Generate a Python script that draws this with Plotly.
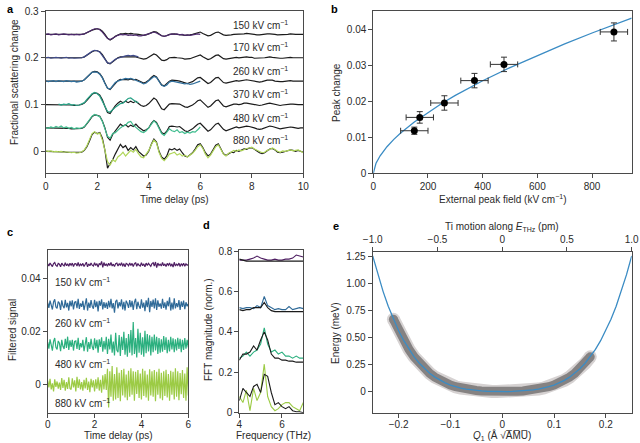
import numpy as np
import plotly.graph_objects as go

FONT = "Liberation Sans, Arial, Helvetica, sans-serif"
W, H = 640, 443
LC = "#4a4a4a"
TC = "#2a2a2a"
BLUE = "#3b8cc4"

# ---------------- Panel a : fractional scattering change ----------------
a_fields = ["150", "170", "260", "370", "480", "880"]
a_offsets = [0.25, 0.20, 0.15, 0.10, 0.05, 0.0]
a_colors = ["#4e2a6e", "#404b8c", "#31709d", "#27a286", "#40bd8f", "#b0d65a"]
a_label_y = [0.271, 0.222, 0.172, 0.122, 0.072, 0.0236]

# simulation (black), 0..10 ps step 0.1, units of 1e-3
sim_150 = [0,0,0,0,0,0,0,0,0,0, -1,-1,-1,-1,0,1,3,6,9,11, 12,11,7,0,-8,-12,-9,-4,-1,1,
           1,2,1,2,1,1,0,-1,-2,-1, 1,4,6,5,0,-3,-4,-3,0,1, 1,0,0,-1,-2,-2,-1,0,2,4,
           5,2,-1,-3,-2,1,4,5,2,-1, -2,-2,-1,0,0,0,1,1,2,1, 0,-1,-1,-1,0,0,1,1,1,0,
           -1,-1,0,0,0,1,0,0,0,0, 0]
sim_170 = [0,0,0,0,0,0,0,0,-1,-1, -1,-1,-1,-1,0,2,5,9,13,15, 15,13,7,-2,-11,-13,-8,-3,0,2,
           2,3,2,3,2,2,0,-1,-3,-2, 1,5,8,6,0,-5,-6,-4,0,1, 1,0,0,-1,-3,-3,-2,0,2,5,
           6,2,-1,-4,-2,1,5,6,2,-2, -3,-2,-1,0,1,0,1,2,2,1, 1,-1,-1,-1,-1,0,1,2,1,0,
           -1,-1,-1,0,1,1,0,0,0,0, 0]
sim_260 = [0,0,0,0,0,0,0,-1,-1,-1, -1,-1,-1,-1,0,3,8,14,19,21, 20,16,8,-4,-15,-18,-11,-4,1,4,
           3,4,3,5,3,4,1,-2,-4,-2, 2,8,12,9,0,-8,-10,-6,0,2, 2,1,0,-2,-4,-5,-3,-1,3,7,
           8,3,-2,-5,-3,2,7,8,3,-3, -4,-3,-1,0,1,0,1,2,3,2, 1,-1,-2,-2,-1,1,2,2,2,0,
           -1,-1,-1,0,1,1,0,0,0,0, 0]
sim_370 = [0,0,0,0,0,-1,-1,-1,-1,-1, -1,-2,-2,-1,0,3,9,16,22,25, 24,20,10,-4,-17,-19,-10,-3,3,7,
           4,7,4,7,4,7,2,-2,-4,-2, 2,9,14,10,0,-9,-11,-6,1,2, 2,1,1,-2,-5,-6,-4,-1,3,8,
           10,4,-2,-6,-3,2,8,10,3,-3, -5,-3,-1,1,1,0,1,3,3,2, 1,-1,-2,-2,-1,1,2,3,2,0,
           -1,-2,-1,0,1,1,1,0,0,0, 0]
sim_480 = [0,0,0,0,0,0,-1,-1,-1,-1, -2,-2,-2,-2,-1,2,8,16,24,28, 27,25,15,0,-20,-26,-14,-6,2,8,
           4,7,2,6,3,8,2,-3,-6,-4, 0,10,16,12,0,-10,-13,-7,3,4, 3,2,3,-2,-6,-8,-5,-2,3,8,
           10,5,-2,-7,-4,2,8,10,4,-3, -6,-4,-1,1,2,0,1,3,4,3, 2,0,-2,-3,-2,0,2,4,3,1,
           -1,-2,-1,0,1,2,1,0,-1,0, 0]
sim_880 = [0,0,0,0,-1,-1,-1,-1,-2,-2, -2,-3,-3,-3,-2,2,10,22,36,41, 38,40,28,2,-36,-26,-18,-6,6,15,
           8,12,2,8,3,10,0,-5,-10,-8, 0,15,26,20,0,-12,-17,-10,5,3, 6,2,5,-3,-10,-12,-8,-3,5,14,
           16,8,-3,-10,-6,3,13,16,6,-5, -9,-6,-2,-3,2,0,3,5,4,7, 8,4,0,-3,-5,-3,1,5,6,3,
           -2,-3,-2,0,2,3,2,0,2,0, -2]
sim_all = [sim_150, sim_170, sim_260, sim_370, sim_480, sim_880]

# measured (coloured), step 0.1 ps, units of 1e-3, with start times
data_150 = [0,1,-1,0,1,-1,0,1,0,-1, 0,-1,0,-1,0,1,4,7,10,12, 12,10,5,-2,-9,-11,-8,-4,-2,0,
            -1,0,-2,-1,-2,-1,-3,-3,-2,-1, 1,3,5,3,0,-3,-4,-2,0,1, 0,1,-1,0,-2,-1,-2,-1,0,1, 0]
data_170 = [0,1,-1,0,1,0,-1,0,1,-1, 0,-1,-1,0,0,2,6,10,14,16, 15,12,5,-4,-11,-12,-7,-3,-1,1,
            2,4,5,4,5,3,2]
data_260 = [1,-1,0,1,-1,1,0,-1,1,0, -1,0,-2,-1,0,3,9,15,19,20, 19,15,7,-5,-15,-17,-10,-3,0,2,
            3,6,5,6,4,2,0,-3,-6,-4, 1,6,10,8,-1,-9,-11,-8,-2,0, -1,-2,-3,-5,-6,-5,-7,-6,-4,-1, 0]
data_370 = [1,-1,1,0,2,-1,0,-2,-1,1, 4,11,18,23,26,23,18,8,-5,-15, -16,-10,-6,-2,2,3,8,13,14,9,
            6,4]
data_480 = [1,-1,2,0,3,1,4,0,2,-1, 1,-2,0,-1,0,3,10,18,25,29, 27,24,14,-2,-18,-22,-12,-10,-4,0,
            4,6,12,14,6,2,-4,-8,-10,-6, 0,8,15,10,-2,-12,-16,-10,-2,-6, -8,-4,-10,-8,-12,-9,-11,-8,-9,-4, 2]
data_880 = [1,0,1,-1,0,-1,0,-2,-1,-2, -3,-2,-4,-3,-1,3,12,25,38,42, 37,39,24,2,-22,-30,-18,-22,-12,-8,
            -2,-10,-5,2,-2,4,-5,-12,-14,-6, 2,14,24,18,-2,-15,-20,-14,-6,-4, -2,-8,-5,-10,-8,-12,-8,-4,2,10,
            14,6,-6,-14,-8,2,10,14,4,-6, -10,-4,-2,2,0,3,1,4,6,7, 9,5,2,-1,-3,-2,2,4,7,4,
            0,-2,1,0,2,3,1,2,3,0, -3]
data_all = [data_150, data_170, data_260, data_370, data_480, data_880]
data_start = [0.0, 0.0, 0.0, 0.5, 0.0, 0.0]

# ---------------- Panel b : peak change vs field ----------------
b_field = [150, 170, 260, 370, 478, 880]
b_peak = [0.0118, 0.0155, 0.0195, 0.0257, 0.0302, 0.0392]
b_field_err = [50, 50, 50, 50, 50, 50]
b_peak_err = [0.0010, 0.0016, 0.0020, 0.0020, 0.0020, 0.0025]
fit_field = [0, 5, 10, 25, 50, 75, 100, 150, 200, 250, 300, 400, 500, 600, 700, 800, 945]
fit_peak = [0, 0.00185, 0.0028, 0.00487, 0.00737, 0.0094, 0.01117, 0.01425, 0.0169, 0.01936,
            0.0216, 0.02566, 0.0293, 0.0327, 0.0359, 0.0389, 0.043]

# ---------------- Panel c : filtered signal (step 0.05 ps, units 1e-4) ----------------
c_fields = ["150", "260", "480", "880"]
c_offsets = [0.045, 0.030, 0.015, 0.0]
c_colors = ["#4f1f63", "#2f6a98", "#2cb07f", "#9ccb45"]
c_label_y = [0.0384, 0.0231, 0.0076, -0.0070]
filt_150 = [3,-5,6,-2,-7,4,8,-3,-6,5, 2,-8,6,-1,-5,7,-4,3,-6,5, -2,6,-7,3,4,-5,8,-6,2,-3,
            5,-7,4,9,-8,3,-4,6,-2,-5, 7,-3,4,-9,5,-1,12,-10,8,-4, 3,-6,5,-3,8,-5,2,-7,4,6,
            -5,3,-2,7,-6,4,-8,5,2,-4, 6,-3,5,-7,3,8,-6,4,-2,-5, 7,-4,3,-8,6,-3,5,-2,-6,4,
            7,-5,10,-11,6,-3,2,-5,8,-4, 3,-7,5,-2,6,-6,3,-9,9,-5, 2,-3,6,-7,4,-3,5,-6,3,-2, 1]
filt_260 = [8,-12,15,-6,-18,10,20,-9,-14,12, 5,-20,16,-4,-13,18,-10,7,-22,14, -6,16,-18,9,11,-13,22,-16,5,-8,
            14,-20,10,24,-22,8,-12,17,-6,-15, 18,-9,12,-25,14,-4,20,-18,10,-12, 8,-16,14,-10,22,-14,6,-30,12,18,
            -14,9,-6,20,-18,11,-22,15,5,-12, 17,-9,14,-20,9,22,-17,11,-6,-15, 20,-11,8,-24,16,-9,26,-28,14,-8,
            19,-14,24,-20,16,-8,5,-15,22,-12, 9,-19,14,-6,28,-22,8,-18,24,-14, 6,-9,17,-20,12,-8,15,-17,9,-6, 3]
filt_480 = [10,-15,20,-8,-22,12,25,-10,-18,14, 6,-24,18,-6,-16,22,-12,30,-20,16, -8,18,-22,12,14,-16,26,-20,6,-10,
            18,-24,12,28,-26,10,-16,22,-8,-20, 24,-14,18,-30,20,-8,28,-26,14,-18, 30,-35,22,-18,38,-30,12,-40,45,-20,
            -28,36,-42,30,-20,48,-38,25,-45,40, -30,55,-40,85,-35,25,-48,60,-30,45, -38,28,-45,52,-32,40,-25,35,-40,30,
            -28,38,-22,30,-35,25,-30,20,-26,32, -20,28,-32,18,-25,30,-18,24,-28,20, -22,26,-16,22,-28,18,-20,25,-15,18, -10]
filt_880 = [15,-10,22,-18,5,-25,20,-8,12,-15, 8,-20,25,-12,18,-22,10,-16,28,-14, -18,24,-10,16,-25,30,-12,20,-18,10,
            -22,18,-14,26,-20,12,-28,22,-10,16, -25,20,-15,28,-22,18,-30,35,-18,40, -20,60,-85,50,-45,70,-60,40,-55,65,
            -50,45,-62,55,-40,60,-48,38,-58,52, -45,62,-38,50,-60,48,-35,55,-50,42, -55,60,-42,52,-48,38,-60,58,-40,50,
            -45,55,-62,48,-38,60,-52,45,-58,50, -42,56,-48,40,-60,52,-38,48,-55,62, -45,50,-58,44,-36,55,-50,42,-60,65, -40]
filt_all = [filt_150, filt_260, filt_480, filt_880]

# ---------------- Panel d : FFT magnitude ----------------
d_freq = [4.0, 4.17, 4.33, 4.5, 4.67, 4.83, 5.0, 5.17, 5.33, 5.5, 5.67, 5.83, 6.0, 6.17, 6.33, 6.5, 6.67, 6.83, 7.0]
fft_sim = [
    [0.76, 0.755, 0.75, 0.75, 0.75, 0.75, 0.75, 0.75, 0.75, 0.75, 0.75, 0.75, 0.75, 0.75, 0.75, 0.75, 0.75, 0.75, 0.75],
    [0.51, 0.505, 0.51, 0.51, 0.52, 0.52, 0.52, 0.545, 0.52, 0.505, 0.50, 0.50, 0.50, 0.50, 0.50, 0.50, 0.50, 0.50, 0.50],
    [0.26, 0.29, 0.29, 0.30, 0.33, 0.31, 0.36, 0.40, 0.36, 0.29, 0.27, 0.27, 0.26, 0.26, 0.255, 0.255, 0.25, 0.25, 0.25],
    [0.06, 0.12, 0.10, 0.08, 0.13, 0.14, 0.10, 0.19, 0.18, 0.10, 0.04, 0.05, 0.03, 0.02, 0.03, 0.01, 0.005, 0.005, 0.0],
]
fft_data = [
    [0.755, 0.755, 0.755, 0.76, 0.765, 0.775, 0.765, 0.76, 0.755, 0.755, 0.76, 0.755, 0.755, 0.76, 0.76, 0.765, 0.78, 0.775, 0.77],
    [0.52, 0.515, 0.52, 0.52, 0.515, 0.53, 0.52, 0.575, 0.53, 0.52, 0.51, 0.515, 0.51, 0.51, 0.525, 0.51, 0.515, 0.52, 0.515],
    [0.27, 0.28, 0.30, 0.28, 0.30, 0.31, 0.34, 0.42, 0.34, 0.30, 0.31, 0.29, 0.30, 0.28, 0.28, 0.27, 0.28, 0.27, 0.27],
    [0.08, 0.05, 0.11, 0.01, 0.12, 0.06, 0.10, 0.24, 0.08, 0.03, 0.01, 0.02, 0.04, 0.05, 0.05, 0.03, 0.02, 0.01, 0.05],
]

# ---------------- Panel e : energy landscape ----------------
e_q = [-0.25, -0.24, -0.23, -0.22, -0.21, -0.20, -0.19, -0.18, -0.17, -0.16, -0.15, -0.14, -0.13,
       -0.12, -0.11, -0.10, -0.09, -0.08, -0.07, -0.06, -0.05, -0.04, -0.03, -0.02, -0.01, 0.0,
       0.01, 0.02, 0.03, 0.04, 0.05, 0.06, 0.07, 0.08, 0.09, 0.10, 0.11, 0.12, 0.13,
       0.14, 0.15, 0.16, 0.17, 0.18, 0.19, 0.20, 0.21, 0.22, 0.23, 0.24, 0.25]
e_energy = [1.2516, 1.0784, 0.9245, 0.7875, 0.6673, 0.5616, 0.4694, 0.3894, 0.3204, 0.2614, 0.2112, 0.1688, 0.1334,
            0.1041, 0.0801, 0.0606, 0.0450, 0.0327, 0.0230, 0.0157, 0.0102, 0.0061, 0.0033, 0.0014, 0.0003, 0.0,
            0.0003, 0.0014, 0.0033, 0.0061, 0.0102, 0.0157, 0.0230, 0.0327, 0.0450, 0.0606, 0.0801, 0.1041, 0.1334,
            0.1688, 0.2112, 0.2614, 0.3204, 0.3894, 0.4694, 0.5616, 0.6673, 0.7875, 0.9245, 1.0784, 1.2516]
band_q = e_q[4:43]
band_energy = e_energy[4:43]

fig = go.Figure()

# Panel a traces
for i in range(6):
    t_sim = np.round(np.arange(len(sim_all[i])) * 0.1, 2)
    fig.add_trace(go.Scatter(x=t_sim, y=a_offsets[i] + np.array(sim_all[i]) / 1000.0,
                             mode="lines", line=dict(color="#1b1b1b", width=1.2),
                             xaxis="x", yaxis="y", hoverinfo="skip"))
    t_dat = np.round(data_start[i] + np.arange(len(data_all[i])) * 0.1, 2)
    fig.add_trace(go.Scatter(x=t_dat, y=a_offsets[i] + np.array(data_all[i]) / 1000.0,
                             mode="lines", line=dict(color=a_colors[i], width=1.2),
                             xaxis="x", yaxis="y", hoverinfo="skip"))

# Panel b
fig.add_trace(go.Scatter(x=fit_field, y=fit_peak, mode="lines", line=dict(color=BLUE, width=1.3),
                         xaxis="x2", yaxis="y2", hoverinfo="skip"))
fig.add_trace(go.Scatter(x=b_field, y=b_peak, mode="markers",
                         marker=dict(color="black", size=7),
                         error_x=dict(type="data", array=b_field_err, color="#333333", thickness=1, width=3),
                         error_y=dict(type="data", array=b_peak_err, color="#333333", thickness=1, width=3),
                         xaxis="x2", yaxis="y2"))

# Panel c
for i in range(4):
    t_c = np.round(np.arange(len(filt_all[i])) * 0.05, 3)
    fig.add_trace(go.Scatter(x=t_c, y=c_offsets[i] + np.array(filt_all[i]) / 10000.0,
                             mode="lines", line=dict(color=c_colors[i], width=1.2),
                             xaxis="x3", yaxis="y3", hoverinfo="skip"))

# Panel d
for i in range(4):
    fig.add_trace(go.Scatter(x=d_freq, y=fft_data[i], mode="lines",
                             line=dict(color=c_colors[i], width=1.1),
                             xaxis="x4", yaxis="y4", hoverinfo="skip"))
    fig.add_trace(go.Scatter(x=d_freq, y=fft_sim[i], mode="lines",
                             line=dict(color="#1b1b1b", width=1.1),
                             xaxis="x4", yaxis="y4", hoverinfo="skip"))

# Panel e
HALO = "#d6d2d2"
CORE = "#858282"
fig.add_trace(go.Scatter(x=band_q, y=band_energy, mode="lines",
                         line=dict(color=HALO, width=13),
                         xaxis="x5", yaxis="y5", hoverinfo="skip"))
fig.add_trace(go.Scatter(x=[band_q[0], band_q[-1]], y=[band_energy[0], band_energy[-1]], mode="markers",
                         marker=dict(color=HALO, size=13),
                         xaxis="x5", yaxis="y5", hoverinfo="skip"))
fig.add_trace(go.Scatter(x=band_q, y=band_energy, mode="lines",
                         line=dict(color=CORE, width=9),
                         xaxis="x5", yaxis="y5", hoverinfo="skip"))
fig.add_trace(go.Scatter(x=[band_q[0], band_q[-1]], y=[band_energy[0], band_energy[-1]], mode="markers",
                         marker=dict(color=CORE, size=9),
                         xaxis="x5", yaxis="y5", hoverinfo="skip"))
fig.add_trace(go.Scatter(x=e_q, y=e_energy, mode="lines", line=dict(color=BLUE, width=1.3),
                         xaxis="x5", yaxis="y5", hoverinfo="skip"))
fig.add_trace(go.Scatter(x=[-1, 1], y=[0, 0], mode="markers", marker=dict(opacity=0),
                         xaxis="x6", yaxis="y5", hoverinfo="skip"))


def px_x(p):
    return p / W


def px_y(p):
    return 1 - p / H


def axis(dom, rng, tv, tt, anchor, **kw):
    d = dict(domain=dom, range=rng, tickvals=tv, ticktext=tt, anchor=anchor,
             showline=True, linecolor=LC, linewidth=1, mirror=True,
             ticks="outside", ticklen=4, tickwidth=1, tickcolor=LC,
             showgrid=False, zeroline=False, automargin=False,
             tickfont=dict(size=10, color=TC, family=FONT))
    d.update(kw)
    return d


XK = dict(ticklabelstandoff=-2)
layout = dict(
    width=W, height=H, margin=dict(l=0, r=0, t=0, b=0),
    paper_bgcolor="white", plot_bgcolor="white", showlegend=False,
    font=dict(family=FONT, size=10, color=TC),
    xaxis=axis([px_x(45.7), px_x(303.3)], [0, 10], [0, 2, 4, 6, 8, 10], ["0", "2", "4", "6", "8", "10"], "y"),
    yaxis=axis([px_y(173.3), px_y(11)], [-0.047, 0.3], [0, 0.1, 0.2, 0.3], ["0", "0.1", "0.2", "0.3"], "x"),
    xaxis2=axis([px_x(373.3), px_x(631.7)], [0, 945], [0, 200, 400, 600, 800], ["0", "200", "400", "600", "800"], "y2"),
    yaxis2=axis([px_y(173.3), px_y(11)], [0, 0.045], [0, 0.01, 0.02, 0.03, 0.04], ["0", "0.01", "0.02", "0.03", "0.04"], "x2"),
    xaxis3=axis([px_x(47.7), px_x(188.3)], [0, 6], [0, 2, 4, 6], ["0", "2", "4", "6"], "y3", **XK),
    yaxis3=axis([px_y(412.7), px_y(250)], [-0.0105, 0.0505], [0, 0.02, 0.04], ["0", "0.02", "0.04"], "x3"),
    xaxis4=axis([px_x(239.3), px_x(303.3)], [4, 7], [4, 6], ["4", "6"], "y4", **XK),
    yaxis4=axis([px_y(412.7), px_y(250)], [0, 0.805], [0, 0.2, 0.4, 0.6, 0.8], ["0", "0.2", "0.4", "0.6", "0.8"], "x4"),
    xaxis5=axis([px_x(372.7), px_x(631.7)], [-0.25, 0.25], [-0.2, -0.1, 0, 0.1, 0.2],
                ["\u22120.2", "\u22120.1", "0", "0.1", "0.2"], "y5", **XK),
    yaxis5=axis([px_y(413.3), px_y(251.7)], [-0.2, 1.29], [0, 0.25, 0.5, 0.75, 1.0, 1.25],
                ["0", "0.25", "0.50", "0.75", "1.00", "1.25"], "x5"),
    xaxis6=axis(None, [-1, 1], [-1, -0.5, 0, 0.5, 1], ["\u22121.0", "\u22120.5", "0", "0.5", "1.0"], "y5",
                overlaying="x5", side="top", mirror=False),
)
layout["xaxis6"].pop("domain")
fig.update_layout(**layout)

ann = []


def label(x, y, text, **kw):
    d = dict(x=px_x(x), y=px_y(y), xref="paper", yref="paper", text=text, showarrow=False,
             font=dict(size=10, color=TC, family=FONT), xanchor="center", yanchor="middle")
    d.update(kw)
    ann.append(d)


# panel letters
for (lx, ly, lt) in [(10, 9, "a"), (334, 9, "b"), (10, 232, "c"), (206, 225, "d"), (336, 226, "e")]:
    label(lx, ly, "<b>%s</b>" % lt, font=dict(size=11, color="black", family=FONT))

# axis titles
label(14, 82, "Fractional scattering change", textangle=-90)
label(174.5, 199, "Time delay (ps)")
label(336, 93, "Peak change", textangle=-90)
label(503, 199, "External peak field (kV cm<sup>\u22121</sup>)")
label(12, 330, "Filtered signal", textangle=-90)
label(118, 435.5, "Time delay (ps)")
label(208, 330, "FFT magnitude (norm.)", textangle=-90)
label(273, 435.5, "Frequency (THz)")
label(335, 333, "Energy (meV)", textangle=-90)
label(502, 435, "<i>Q</i><sub>1</sub> (\u00c5 \u221aA\u0305M\u0305U\u0305)")
label(502, 227, "Ti motion along <i>E</i><sub>THz</sub> (pm)")

# panel a field labels
for i in range(6):
    ann.append(dict(x=9.5, y=a_label_y[i], xref="x", yref="y", showarrow=False,
                    text="%s kV cm<sup>\u22121</sup>" % a_fields[i], xanchor="right", yanchor="middle",
                    font=dict(size=10, color=TC, family=FONT)))
# panel c field labels
for i in range(4):
    ann.append(dict(x=0.22, y=c_label_y[i], xref="x3", yref="y3", showarrow=False,
                    text="%s kV cm<sup>\u22121</sup>" % c_fields[i], xanchor="left", yanchor="middle",
                    font=dict(size=10, color=TC, family=FONT)))

fig.update_layout(annotations=ann)
fig.write_html("out.html")
